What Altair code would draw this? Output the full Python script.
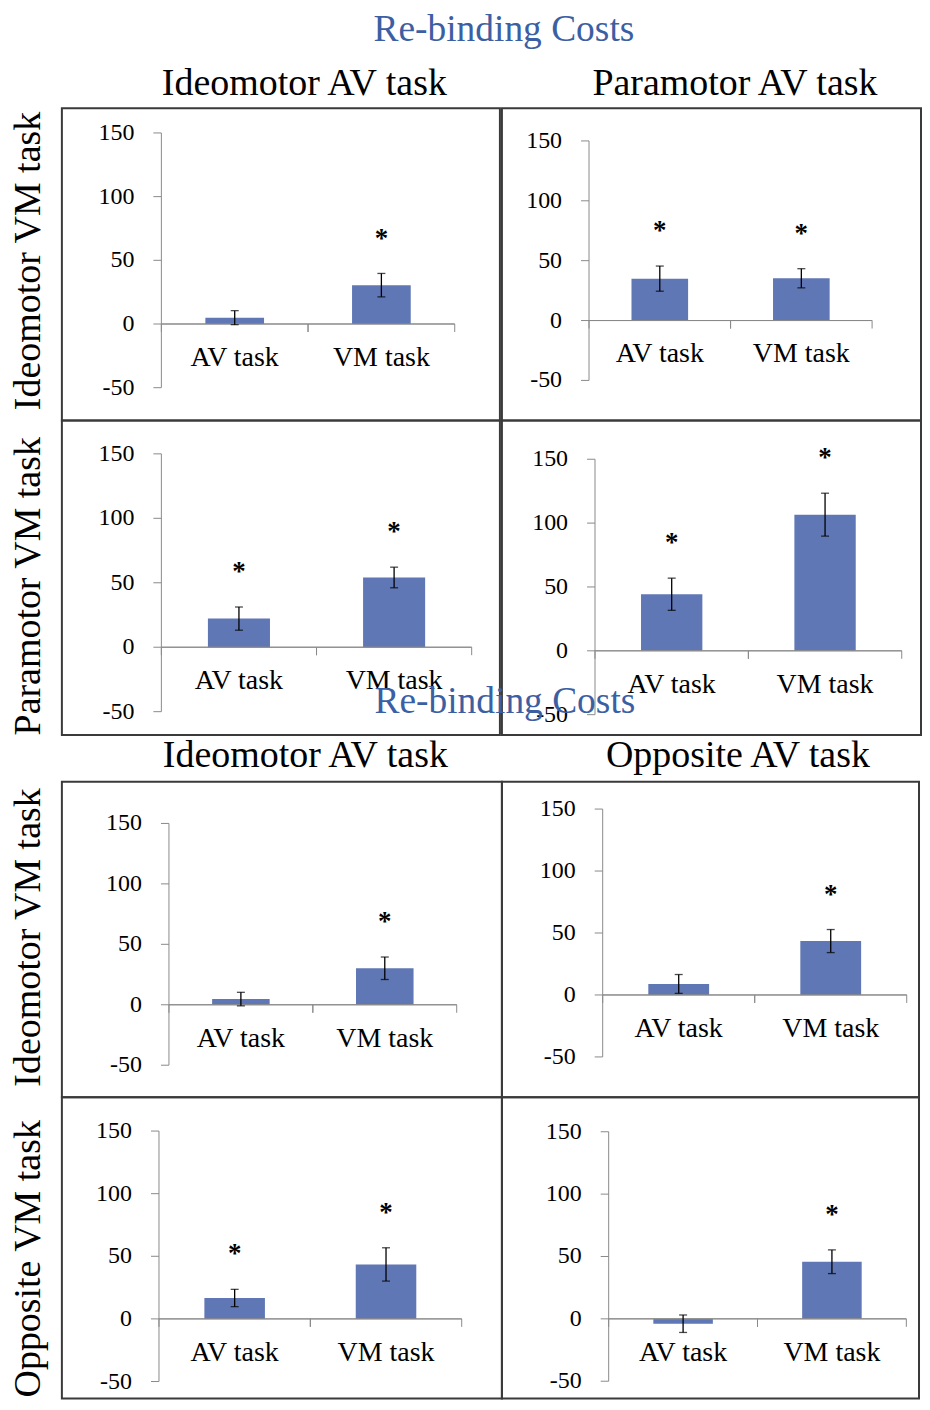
import altair as alt
import pandas as pd

FONT = "Liberation Serif"

categories = ["AV task", "VM task"]
y_ticks = [-50, 0, 50, 100, 150]

fig1_title = "Re-binding Costs"
fig1_cols = ["Ideomotor AV task", "Paramotor AV task"]
fig1_rows = ["Ideomotor VM task", "Paramotor VM task"]

fig2_title = "Re-binding Costs"
fig2_cols = ["Ideomotor AV task", "Opposite AV task"]
fig2_rows = ["Ideomotor VM task", "Opposite VM task"]

# Figure 1 (mean re-binding cost, error half-width, significance)
f1_r1c1_mean = [5.0, 30.5]
f1_r1c1_err = [5.5, 9.2]
f1_r1c1_sig = [False, True]

f1_r1c2_mean = [35.0, 35.3]
f1_r1c2_err = [10.5, 8.0]
f1_r1c2_sig = [True, True]

f1_r2c1_mean = [22.2, 54.1]
f1_r2c1_err = [9.0, 8.0]
f1_r2c1_sig = [True, True]

f1_r2c2_mean = [44.3, 106.6]
f1_r2c2_err = [12.6, 16.8]
f1_r2c2_sig = [True, True]

# Figure 2
f2_r1c1_mean = [4.7, 30.2]
f2_r1c1_err = [5.6, 9.3]
f2_r1c1_sig = [False, True]

f2_r1c2_mean = [8.9, 43.5]
f2_r1c2_err = [7.6, 9.3]
f2_r1c2_sig = [False, True]

f2_r2c1_mean = [16.7, 43.5]
f2_r2c1_err = [6.9, 13.3]
f2_r2c1_sig = [True, True]

f2_r2c2_mean = [-3.9, 45.8]
f2_r2c2_err = [7.0, 9.5]
f2_r2c2_sig = [False, True]

BAR = "#6077B5"
AXIS_GRAY = "#8a8a8a"
BORDER = "#3a3a3a"
TITLE_BLUE = "#3C5FA3"
BIG = 38


def panel(mean, err, sig, w, h, ax_x, ax_end, px_top, px_bottom):
    df = pd.DataFrame({"task": categories, "mean": mean, "err": err, "sig": sig,
                       "zero": [0] * len(categories)})
    tick_df = pd.DataFrame({"v": y_ticks, "label": [str(v) for v in y_ticks]})
    y0 = px_bottom - 0.25 * (px_bottom - px_top)

    xscale = alt.Scale(domain=categories, range=[ax_x, ax_end], paddingInner=0, paddingOuter=0)
    yscale = alt.Scale(domain=[-50, 150], range=[px_bottom, px_top], nice=False, zero=False)
    X = alt.X("task:N", sort=categories, scale=xscale, axis=None)

    base = alt.Chart(df).transform_calculate(
        lo="datum.mean - datum.err", hi="datum.mean + datum.err")
    bars = base.mark_bar(color=BAR, width=alt.RelativeBandSize(0.4)).encode(
        x=X, y=alt.Y("mean:Q", scale=yscale, axis=None))
    rule = base.mark_rule(color="black", strokeWidth=1.3).encode(
        x=X, y=alt.Y("lo:Q", axis=None), y2="hi:Q")
    cap_lo = base.mark_tick(color="black", size=8, thickness=1.3).encode(
        x=X, y=alt.Y("lo:Q", axis=None))
    cap_hi = base.mark_tick(color="black", size=8, thickness=1.3).encode(
        x=X, y=alt.Y("hi:Q", axis=None))
    star = base.transform_filter("datum.sig").mark_text(
        text="*", font=FONT, fontSize=27, fontWeight="bold", baseline="alphabetic",
        dy=-27, color="black"
    ).encode(x=X, y=alt.Y("hi:Q", axis=None))

    # value axis
    ty = alt.Chart(tick_df)
    y_line = ty.mark_rule(color=AXIS_GRAY, strokeWidth=1).encode(
        x=alt.value(ax_x), y=alt.Y("min(v):Q", axis=None), y2="max(v):Q")
    y_tk = ty.mark_rule(color=AXIS_GRAY, strokeWidth=1).encode(
        x=alt.value(ax_x - 8), x2=alt.value(ax_x), y=alt.Y("v:Q", axis=None))
    y_lab = ty.mark_text(font=FONT, fontSize=24, align="right", baseline="middle",
                         color="black").encode(
        x=alt.value(ax_x - 27), y=alt.Y("v:Q", axis=None), text="label:N")

    # category axis (line at zero, ticks at band edges, labels under bands)
    x_line = base.mark_rule(color=AXIS_GRAY, strokeWidth=1).encode(
        x=alt.value(ax_x), x2=alt.value(ax_end), y=alt.Y("zero:Q", axis=None))
    x_tk0 = base.mark_rule(color=AXIS_GRAY, strokeWidth=1).encode(
        x=alt.X("task:N", sort=categories, bandPosition=0, axis=None),
        y=alt.Y("zero:Q", axis=None), y2=alt.value(y0 + 8))
    x_tk1 = base.mark_rule(color=AXIS_GRAY, strokeWidth=1).encode(
        x=alt.X("task:N", sort=categories, bandPosition=1, axis=None),
        y=alt.Y("zero:Q", axis=None), y2=alt.value(y0 + 8))
    x_lab = base.mark_text(font=FONT, fontSize=28, align="center", baseline="alphabetic",
                           dy=42, color="black").encode(
        x=X, y=alt.Y("zero:Q", axis=None), text="task:N")

    return alt.layer(
        bars, y_line, y_tk, y_lab, x_line, x_tk0, x_tk1, x_lab, rule, cap_lo, cap_hi, star
    ).properties(width=w, height=h, view=alt.ViewBackground(stroke=BORDER, strokeWidth=2))


def text_item(text, x, y, color="black", size=BIG, angle=0, baseline="alphabetic"):
    return alt.Chart(pd.DataFrame({"t": [text]})).mark_text(
        font=FONT, fontSize=size, baseline=baseline, align="center", color=color, angle=angle
    ).encode(text="t:N", x=alt.value(x), y=alt.value(y))


def row_label(text, h, yc):
    return text_item(text, 32, yc, angle=270).properties(width=54, height=h)


def blank(w, h):
    return text_item(" ", w / 2, h / 2, size=4).properties(width=w, height=h)


cells = [
    # figure 1 header row
    blank(54, 99),
    alt.layer(text_item(fig1_title, 443, 1.5, TITLE_BLUE, size=37.5, baseline="top"),
              text_item(fig1_cols[0], 243, 86)).properties(width=439, height=99),
    text_item(fig1_cols[1], 233.5, 86).properties(width=420, height=99),
    # figure 1 row 1
    row_label(fig1_rows[0], 313, 153),
    panel(f1_r1c1_mean, f1_r1c1_err, f1_r1c1_sig, 439, 313, 99.7, 393.7, 24.7, 280.0),
    panel(f1_r1c2_mean, f1_r1c2_err, f1_r1c2_sig, 420, 313, 87.3, 371.0, 32.7, 272.7),
    # figure 1 row 2
    row_label(fig1_rows[1], 315, 166),
    panel(f1_r2c1_mean, f1_r2c1_err, f1_r2c1_sig, 439, 315, 99.7, 410.7, 33.3, 291.7),
    panel(f1_r2c2_mean, f1_r2c2_err, f1_r2c2_sig, 420, 315, 93.3, 400.7, 38.7, 294.7),
    # figure 2 header row
    blank(54, 47),
    alt.layer(text_item(fig2_title, 444, -22, TITLE_BLUE, size=37.5),
              text_item(fig2_cols[0], 244, 32)).properties(width=441, height=47),
    text_item(fig2_cols[1], 236.5, 32).properties(width=418, height=47),
    # figure 2 row 1
    row_label(fig2_rows[0], 316, 156),
    panel(f2_r1c1_mean, f2_r1c1_err, f2_r1c1_sig, 441, 316, 107.3, 395.7, 41.7, 284.0),
    panel(f2_r1c2_mean, f2_r1c2_err, f2_r1c2_sig, 418, 316, 101.0, 405.7, 27.3, 275.7),
    # figure 2 row 2 (cut at the bottom edge like the source image)
    row_label(fig2_rows[1], 302, 162),
    panel(f2_r2c1_mean, f2_r2c1_err, f2_r2c1_sig, 441, 302, 97.3, 400.7, 34.0, 285.0),
    panel(f2_r2c2_mean, f2_r2c2_err, f2_r2c2_sig, 418, 302, 107.0, 405.3, 34.7, 284.7),
]

chart = alt.concat(
    *cells, columns=3, spacing=0, bounds="flush", align="none"
).properties(padding=0).configure(font=FONT).configure_view(strokeWidth=0)

chart.save("out.html", embed_options={"renderer": "svg", "actions": False})
